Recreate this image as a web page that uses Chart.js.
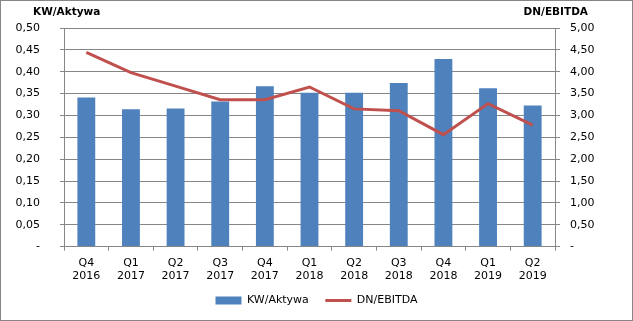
<!DOCTYPE html>
<html>
<head>
<meta charset="utf-8">
<script src="https://cdn.jsdelivr.net/npm/chart.js@4.4.1/dist/chart.umd.min.js"></script>
<style>
  body { margin: 0; background: #fff; }
  #wrap { width: 633px; height: 321px; box-sizing: border-box; border: 1px solid #868686; position: relative; }
  canvas { display: block; }
</style>
</head>
<body>
<div id="wrap"><canvas id="chart" width="631" height="319"></canvas></div>
<script>
// ---------- DATA ----------
const quarters = [
  ["Q4", "2016"], ["Q1", "2017"], ["Q2", "2017"], ["Q3", "2017"], ["Q4", "2017"],
  ["Q1", "2018"], ["Q2", "2018"], ["Q3", "2018"], ["Q4", "2018"], ["Q1", "2019"], ["Q2", "2019"]
];
const kwAktywa = [0.341, 0.314, 0.316, 0.332, 0.367, 0.352, 0.352, 0.374, 0.429, 0.362, 0.323];
const dnEbitda = [4.44, 3.98, 3.67, 3.36, 3.36, 3.65, 3.15, 3.11, 2.56, 3.27, 2.78];

const FONT = "'DejaVu Sans', Verdana, sans-serif";
const GRID = "#868686";

const fmt = v => (Math.abs(v) < 1e-9 ? "-" : v.toFixed(2).replace(".", ","));

// axis titles drawn horizontally above each axis
const axisTitles = {
  id: "axisTitles",
  afterDraw(chart) {
    const ctx = chart.ctx;
    ctx.save();
    ctx.font = "bold 10.5px " + FONT;
    ctx.fillStyle = "#000";
    ctx.textBaseline = "middle";
    ctx.textAlign = "left";
    ctx.fillText("KW/Aktywa", 32, 11);
    ctx.textAlign = "right";
    ctx.fillText("DN/EBITDA", 587, 11);
    ctx.restore();
  }
};

new Chart(document.getElementById("chart"), {
  data: {
    labels: quarters,
    datasets: [
      {
        type: "line",
        label: "DN/EBITDA",
        data: dnEbitda,
        yAxisID: "y2",
        borderColor: "#C0504D",
        backgroundColor: "#C0504D",
        borderWidth: 3,
        pointRadius: 0,
        pointStyle: "line",
        tension: 0,
        order: 0
      },
      {
        type: "bar",
        label: "KW/Aktywa   ",   // trailing spaces widen the gap between legend items
        data: kwAktywa,
        yAxisID: "y",
        backgroundColor: "#4F81BD",
        pointStyle: "rect",
        categoryPercentage: 1,
        barPercentage: 0.4,
        order: 1
      }
    ]
  },
  options: {
    responsive: false,
    animation: false,
    layout: { padding: { left: 0, right: 0, top: 27, bottom: 4 } },
    plugins: {
      tooltip: { enabled: false },
      legend: {
        position: "bottom",
        reverse: true,
        labels: {
          usePointStyle: true,
          pointStyleWidth: 26,
          boxHeight: 8,
          padding: 6,
          color: "#000",
          font: { family: FONT, size: 11 }
        }
      }
    },
    scales: {
      x: {
        offset: true,
        grid: { offset: true, drawOnChartArea: false, color: GRID, tickLength: 4 },
        border: { color: GRID },
        ticks: { color: "#000", font: { family: FONT, size: 11 }, maxRotation: 0, padding: 6 }
      },
      y: {
        position: "left",
        min: 0,
        max: 0.5,
        afterFit: s => { s.width = 63; },
        grid: { color: GRID, tickLength: 4 },
        border: { color: GRID },
        ticks: { stepSize: 0.05, color: "#000", font: { family: FONT, size: 11 }, padding: 20, callback: fmt }
      },
      y2: {
        position: "right",
        min: 0,
        max: 5,
        afterFit: s => { s.width = 77; },
        grid: { drawOnChartArea: false, color: GRID, tickLength: 5 },
        border: { color: GRID },
        ticks: { stepSize: 0.5, color: "#000", font: { family: FONT, size: 11 }, padding: 10, callback: fmt }
      }
    }
  },
  plugins: [axisTitles]
});
</script>
</body>
</html>
